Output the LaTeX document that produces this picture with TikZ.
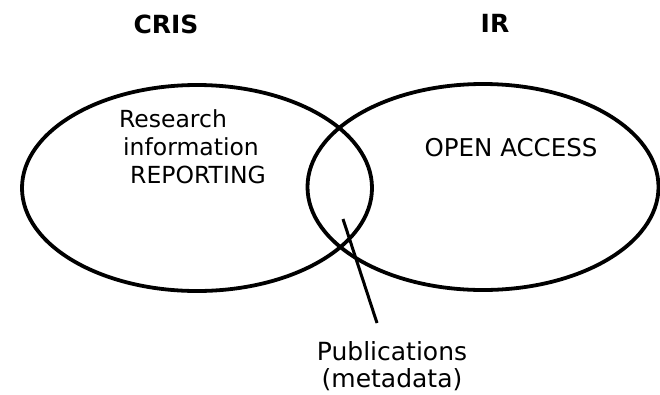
\documentclass[tikz,border=0pt]{standalone}
\usepackage{fontspec}
\setmainfont{DejaVu Sans}
\usetikzlibrary{shapes.geometric}
\begin{document}
\begin{tikzpicture}[x=1pt,y=-1pt,
  setbox/.style={draw=black,line width=3.8pt,ellipse,inner sep=0pt},
  title/.style={font=\fontsize{25}{30}\selectfont\bfseries},
  body/.style={font=\fontsize{24.5}{28}\selectfont,align=center},
  conn/.style={draw=black,line width=3pt}]
\useasboundingbox (0,0) rectangle (660,394);
\node[setbox,minimum width=350pt,minimum height=206pt] (cris) at (197,188) {};
\node[setbox,minimum width=351pt,minimum height=206pt] (ir) at (483,187) {};
\node[title] (crist) at (166,24) {CRIS};
\node[title] (irt) at (495,23) {IR};
\node[body,font=\fontsize{23.5}{28}\selectfont] (rir) at (191,147) {\hspace*{-36pt}Research\\information\\\hspace*{14pt}REPORTING};
\node[body] (oa) at (511,148) {OPEN ACCESS};
\node[body,font=\fontsize{25}{26.5}\selectfont] (pub) at (392,366) {Publications\\(metadata)};
\coordinate (ltop) at (343,219);
\coordinate (lbot) at (377,323);
\draw[conn] (ltop) -- (lbot);
\end{tikzpicture}
\end{document}
